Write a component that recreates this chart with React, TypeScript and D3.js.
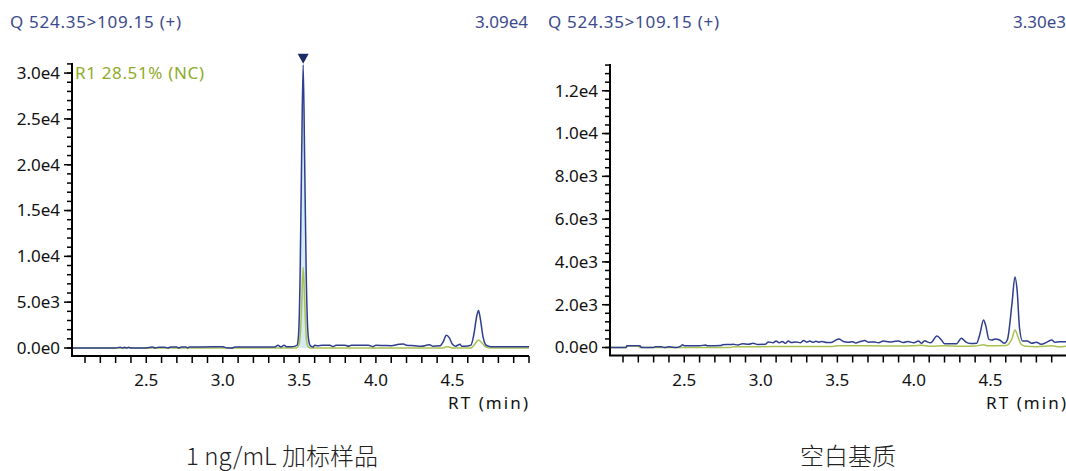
import React from 'react';
import * as d3 from 'd3';

type Pt = [number, number];

// chromatogram traces: [RT (min), intensity]
const spikedBlue: Pt[] = [
  [2.015, 0], [2.1, 0], [2.2, 0], [2.3, 0], [2.33, 80], [2.345, 0], [2.36, 90], [2.37, 0], [2.385, 90], [2.4, 0],
  [2.5, 0], [2.54, 100], [2.56, 0], [2.58, 80], [2.62, 80], [2.64, 0], [2.66, 100], [2.7, 100], [2.71, 0],
  [2.73, 100], [2.76, 100], [2.77, 0], [2.78, 100], [2.85, 120], [2.95, 130], [3.0, 130], [3.03, 0], [3.06, 0],
  [3.08, 100], [3.2, 100], [3.3, 110], [3.34, 110], [3.36, 300], [3.38, 120], [3.4, 300], [3.42, 130], [3.46, 150],
  [3.485, 300], [3.495, 1500], [3.505, 8000], [3.515, 21000], [3.525, 30900], [3.535, 20000], [3.545, 8000],
  [3.555, 2000], [3.565, 500], [3.575, 200], [3.59, 100], [3.6, 300], [3.62, 250], [3.65, 300], [3.7, 300],
  [3.72, 150], [3.74, 300], [3.8, 300], [3.82, 200], [3.84, 300], [3.9, 300], [3.95, 300], [3.98, 150], [4.0, 300],
  [4.05, 280], [4.1, 250], [4.15, 400], [4.18, 450], [4.2, 300], [4.25, 250], [4.3, 200], [4.33, 300], [4.35, 350],
  [4.37, 200], [4.42, 250], [4.44, 700], [4.46, 1400], [4.48, 1100], [4.5, 400], [4.52, 200], [4.55, 400],
  [4.56, 200], [4.58, 200], [4.62, 300], [4.64, 1500], [4.66, 3600], [4.67, 4100], [4.68, 3400], [4.7, 1200],
  [4.72, 300], [4.75, 150], [4.85, 150], [5.0, 150],
];

const spikedGreen: Pt[] = [
  [2.015, 0], [3.0, 0], [3.48, 0], [3.495, 300], [3.505, 1200], [3.515, 4500], [3.525, 8800], [3.535, 5000],
  [3.545, 1200], [3.555, 200], [3.57, 0], [4.0, 0], [4.44, 0], [4.46, 150], [4.48, 100], [4.5, 0], [4.62, 0],
  [4.645, 400], [4.67, 870], [4.69, 600], [4.72, 100], [4.75, 0], [5.0, 0],
];

const blankBlue: Pt[] = [
  [2.011, 0], [2.12, 0], [2.125, 80], [2.21, 80], [2.22, 0], [2.3, 0], [2.31, 30], [2.35, 40], [2.37, 0], [2.4, 30],
  [2.45, 0], [2.48, 80], [2.49, 130], [2.5, 80], [2.6, 80], [2.64, 120], [2.65, 80], [2.74, 90], [2.75, 130],
  [2.8, 140], [2.82, 150], [2.85, 120], [2.88, 170], [2.92, 150], [2.95, 200], [2.98, 140], [3.03, 150],
  [3.05, 260], [3.08, 220], [3.1, 300], [3.12, 220], [3.14, 280], [3.16, 200], [3.18, 300], [3.2, 230],
  [3.23, 260], [3.26, 220], [3.28, 330], [3.3, 250], [3.32, 300], [3.34, 240], [3.36, 290], [3.38, 250],
  [3.4, 280], [3.43, 230], [3.46, 230], [3.48, 300], [3.51, 400], [3.54, 280], [3.57, 250], [3.6, 270],
  [3.62, 210], [3.65, 280], [3.68, 330], [3.7, 250], [3.74, 260], [3.77, 220], [3.8, 300], [3.84, 260],
  [3.87, 280], [3.9, 300], [3.93, 230], [3.96, 280], [4.0, 220], [4.03, 300], [4.05, 200], [4.07, 320],
  [4.09, 250], [4.11, 220], [4.15, 540], [4.18, 350], [4.2, 180], [4.25, 170], [4.28, 180], [4.31, 430],
  [4.34, 250], [4.37, 190], [4.41, 200], [4.43, 600], [4.455, 1290], [4.47, 1000], [4.49, 380], [4.51, 350],
  [4.53, 400], [4.56, 350], [4.59, 200], [4.61, 350], [4.64, 2000], [4.66, 3300], [4.675, 2600], [4.69, 900],
  [4.71, 300], [4.74, 300], [4.77, 200], [4.8, 250], [4.83, 150], [4.87, 250], [4.9, 350], [4.92, 250],
  [4.95, 270], [5.0, 270],
];

const blankGreen: Pt[] = [
  [2.011, 0], [2.12, 0], [2.13, 70], [2.2, 70], [2.21, 0], [2.8, 0], [2.82, 40], [3.0, 40], [3.2, 50], [3.4, 50],
  [3.47, 50], [3.5, 80], [3.7, 80], [3.9, 70], [4.0, 80], [4.05, 100], [4.1, 60], [4.2, 80], [4.3, 60], [4.4, 70],
  [4.455, 130], [4.48, 80], [4.6, 90], [4.64, 400], [4.66, 820], [4.68, 500], [4.7, 150], [4.73, 60], [4.8, 40],
  [4.9, 80], [4.95, 30], [5.0, 60],
];

const xTickLabels = [2.5, 3.0, 3.5, 4.0, 4.5];
const spikedYTicks = [0, 5000, 10000, 15000, 20000, 25000, 30000];
const blankYTicks = [0, 2000, 4000, 6000, 8000, 10000, 12000];
const transition = 'Q 524.35>109.15 (+)';
const sampleNames = ['1 ng/mL 加标样品', '空白基质'];
const maxLabels = ['3.09e4', '3.30e3'];
const peakLabel = 'R1 28.51% (NC)';

const BLUE = '#2f3e8e';
const GREEN = '#a9c150';
const FONT = '"Noto Sans", "Open Sans", sans-serif';

const fmtE = (v: number) => {
  if (v === 0) return '0.0e0';
  const e = Math.floor(Math.log10(v));
  return `${(v / Math.pow(10, e)).toFixed(1)}e${e}`;
};

interface PanelProps {
  left: number;
  yZero: number;
  yTopVal: number;
  yTopPx: number;
  yTicks: number[];
  minorStep: number;
  blue: Pt[];
  green: Pt[];
  maxLabel: string;
  name: string;
  nameX: number;
  peak?: boolean;
}

const Panel: React.FC<PanelProps> = ({ left, yZero, yTopVal, yTopPx, yTicks, minorStep, blue, green, maxLabel, name, nameX, peak }) => {
  const width = 457;
  const x = d3.scaleLinear().domain([2.015, 5.0]).range([left, left + width]);
  const y = d3.scaleLinear().domain([0, yTopVal]).range([yZero, yTopPx]);
  const axisY = yZero + 8;
  const line = d3.line<Pt>().x(d => x(d[0])).y(d => y(d[1])).curve(d3.curveMonotoneX);
  const area = d3.area<Pt>().x(d => x(d[0])).y0(y(0)).y1(d => y(d[1])).curve(d3.curveMonotoneX);
  const minorY = d3.range(0, yTopVal, minorStep);
  const minorX = d3.range(21, 51).map(i => i / 10);
  const peakPts = blue.filter(d => d[0] >= 3.485 && d[0] <= 3.575);
  const apex = blue.reduce((a, b) => (b[1] > a[1] ? b : a));

  return (
    <g fontFamily={FONT}>
      <text x={left - 62} y={28} fontSize={17} fill="#3b4a8c" textLength={171} lengthAdjust="spacing">{transition}</text>
      <text x={left + width - 1} y={28} fontSize={17} fill="#3b4a8c" textAnchor="end">{maxLabel}</text>

      {peak && <path d={area(peakPts) || ''} fill="#d5ebf3" />}
      <path d={line(green) || ''} fill="none" stroke={GREEN} strokeWidth={1.5} />
      <path d={line(blue) || ''} fill="none" stroke={BLUE} strokeWidth={1.5} />
      {peak && (
        <path
          d={`M${x(apex[0]) - 5.5},${y(apex[1]) - 11} L${x(apex[0]) + 5.5},${y(apex[1]) - 11} L${x(apex[0])},${y(apex[1]) - 1} Z`}
          fill="#1c2a66"
        />
      )}
      {peak && (
        <text x={left + 3} y={y(30000)} dy="0.35em" fontSize={17} fill="#8eab2a" textLength={129} lengthAdjust="spacing">{peakLabel}</text>
      )}

      {/* y axis */}
      <line x1={left} x2={left} y1={yTopPx} y2={axisY} stroke="#000" strokeWidth={2} />
      {minorY.map(v => (
        <line key={`m${v}`} x1={left - 5} x2={left} y1={y(v)} y2={y(v)} stroke="#000" strokeWidth={1.5} />
      ))}
      {yTicks.map(v => (
        <g key={v}>
          <line x1={left - 8} x2={left} y1={y(v)} y2={y(v)} stroke="#000" strokeWidth={1.5} />
          <text x={left - 12} y={y(v)} dy="0.35em" fontSize={17} textAnchor="end" fill="#111">{fmtE(v)}</text>
        </g>
      ))}

      {/* x axis */}
      <line x1={left - 1} x2={left + width} y1={axisY} y2={axisY} stroke="#000" strokeWidth={2} />
      {minorX.map(t => (
        <line key={t} x1={x(t)} x2={x(t)} y1={axisY} y2={axisY + 7} stroke="#000" strokeWidth={1.5} />
      ))}
      {xTickLabels.map(t => (
        <text key={t} x={x(t)} y={386} fontSize={17} textAnchor="middle" fill="#111">{t.toFixed(1)}</text>
      ))}
      <text x={left + width - 1} y={409} fontSize={17} textAnchor="end" fill="#111" textLength={80} lengthAdjust="spacing">RT (min)</text>

      <text x={nameX} y={465} fontSize={24} fontWeight={300} textAnchor="middle" fill="#222"
        fontFamily='"Noto Sans CJK SC", "Noto Sans", sans-serif'>{name}</text>
    </g>
  );
};

export default function App() {
  return (
    <svg width={1066} height={471} style={{ position: 'absolute', left: 0, top: 0, background: '#fff' }}>
      <Panel left={72} yZero={348} yTopVal={31100} yTopPx={63} yTicks={spikedYTicks} minorStep={1000}
        blue={spikedBlue} green={spikedGreen} maxLabel={maxLabels[0]} name={sampleNames[0]} nameX={282} peak />
      <Panel left={610} yZero={347.5} yTopVal={13250} yTopPx={64} yTicks={blankYTicks} minorStep={400}
        blue={blankBlue} green={blankGreen} maxLabel={maxLabels[1]} name={sampleNames[1]} nameX={848} />
    </svg>
  );
}
